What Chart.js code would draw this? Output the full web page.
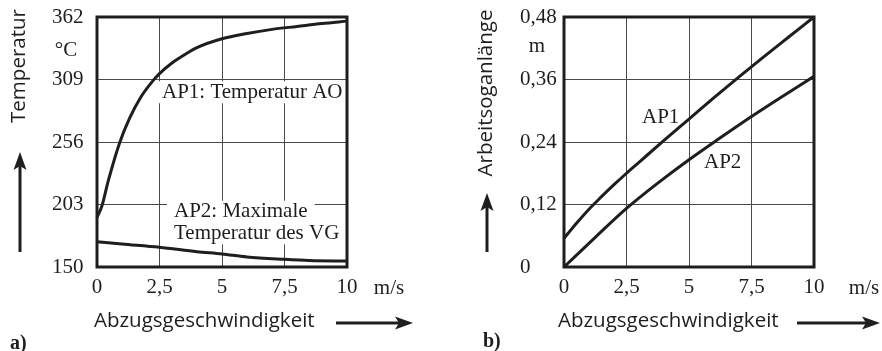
<!DOCTYPE html>
<html lang="de">
<head>
<meta charset="utf-8">
<title>Abzugsgeschwindigkeit</title>
<script src="https://cdn.jsdelivr.net/npm/chart.js"></script>
<style>
  body { margin: 0; background: #fff; }
  #wrap { position: relative; width: 882px; height: 351px; }
  canvas { position: absolute; top: 0; }
  #chartA { left: 0; }
  #chartB { left: 441px; }
</style>
</head>
<body>
<div id="wrap">
  <canvas id="chartA" width="441" height="351"></canvas>
  <canvas id="chartB" width="441" height="351"></canvas>
</div>
<script>
// Abzugsgeschwindigkeit in m/s (beide Diagramme)
const speedTicks = [0, 2.5, 5, 7.5, 10];
const speedLabels = ['0', '2,5', '5', '7,5', '10'];

// a) Temperatur in °C
const tempTicks = [150, 203, 256, 309, 362];
const tempLabels = ['150', '203', '256', '309', '362'];
const ap1TempX = [0, 0.2, 0.45, 0.9, 1.3, 1.75, 2.2, 2.5, 3, 3.5, 4, 5, 6, 7, 8, 9, 10];
const ap1TempY = [192, 202, 223, 255, 276, 294, 307, 314, 323, 330, 336, 343.5, 348, 351.5, 354, 356.5, 358.5];
const ap2TempX = [0, 1, 2.5, 4, 5, 6, 7.5, 8.5, 10];
const ap2TempY = [171.5, 169.5, 166.7, 163, 161, 158.5, 156.5, 155.5, 155];

// b) Arbeitsoganlänge in m
const lengthTicks = [0, 0.12, 0.24, 0.36, 0.48];
const lengthLabels = ['0', '0,12', '0,24', '0,36', '0,48'];
const ap1LenX = [0, 0.5, 1, 1.5, 2, 2.5, 3, 4, 5, 6, 7, 8, 9, 10];
const ap1LenY = [0.055, 0.084, 0.111, 0.135, 0.158, 0.18, 0.201, 0.243, 0.284, 0.325, 0.365, 0.404, 0.442, 0.48];
const ap2LenX = [0, 1.25, 2.5, 3.75, 5, 6.25, 7.5, 8.75, 10];
const ap2LenY = [0, 0.057, 0.1125, 0.161, 0.206, 0.248, 0.289, 0.328, 0.366];

const INK = '#1e1e1e';
const GRID = '#4a4a4a';
const SERIF = '21px "Liberation Serif"';
const SERIF_BOLD = 'bold 20px "Liberation Serif"';
const SANS = '20.5px "Open Sans"';
const LINE = 21.6;

function pts(xs, ys) {
  return xs.map((x, i) => ({ x, y: ys[i] }));
}

function arrow(ctx, x1, y1, x2, y2) {
  const ang = Math.atan2(y2 - y1, x2 - x1);
  const len = 18, half = 6.5;
  const bx = x2 - Math.cos(ang) * len, by = y2 - Math.sin(ang) * len;
  ctx.beginPath();
  ctx.moveTo(x1, y1);
  ctx.lineTo(bx + Math.cos(ang) * 4, by + Math.sin(ang) * 4);
  ctx.stroke();
  ctx.beginPath();
  ctx.moveTo(x2, y2);
  ctx.lineTo(bx - Math.sin(ang) * half, by + Math.cos(ang) * half);
  ctx.lineTo(bx + Math.cos(ang) * 4, by + Math.sin(ang) * 4);
  ctx.lineTo(bx + Math.sin(ang) * half, by - Math.cos(ang) * half);
  ctx.closePath();
  ctx.fill();
}

// Beschriftungen im Diagramm, Rahmen, Achsentitel und Pfeile
function makeDeco(cfg) {
  return {
    id: 'deco',
    beforeDatasetsDraw(chart) {
      const { ctx, chartArea: a, scales: { x, y } } = chart;
      ctx.save();
      ctx.font = SERIF;
      ctx.textBaseline = 'middle';
      ctx.textAlign = 'left';
      for (const n of cfg.notes) {
        const px = x.getPixelForValue(n.x);
        const top = y.getPixelForValue(n.y) - n.lines.length * LINE / 2;
        n.lines.forEach((t, i) => {
          const cy = top + LINE * (i + 0.5);
          if (n.box) {
            ctx.fillStyle = '#fff';
            ctx.fillRect(px - 7, cy - 11, ctx.measureText(t).width + 14, 22);
          }
          ctx.fillStyle = INK;
          ctx.fillText(t, px, cy);
        });
      }
      ctx.lineWidth = 3;
      ctx.strokeStyle = INK;
      ctx.strokeRect(a.left, a.top, a.right - a.left, a.bottom - a.top);
      ctx.restore();
    },
    afterDraw(chart) {
      const ctx = chart.ctx;
      ctx.save();
      ctx.fillStyle = INK;
      ctx.strokeStyle = INK;
      ctx.textBaseline = 'middle';
      for (const t of cfg.texts) {
        ctx.font = t.font;
        ctx.textAlign = t.align || 'center';
        if (t.rot) {
          ctx.save();
          ctx.translate(t.x, t.y);
          ctx.rotate(-Math.PI / 2);
          ctx.fillText(t.t, 0, 0);
          ctx.restore();
        } else {
          ctx.fillText(t.t, t.x, t.y);
        }
      }
      ctx.lineWidth = 3;
      for (const a of cfg.arrows) arrow(ctx, a[0], a[1], a[2], a[3]);
      ctx.restore();
    }
  };
}

function makeChart(id, cfg) {
  return new Chart(document.getElementById(id), {
    type: 'line',
    data: {
      datasets: cfg.series.map((s) => ({
        label: s.label,
        data: pts(s.x, s.y),
        borderColor: INK,
        borderWidth: 3,
        pointRadius: 0,
        cubicInterpolationMode: 'monotone',
        fill: false,
        clip: false,
      })),
    },
    options: {
      responsive: false,
      animation: false,
      devicePixelRatio: 1,
      layout: { padding: cfg.padding },
      plugins: { legend: { display: false }, tooltip: { enabled: false } },
      scales: {
        x: {
          type: 'linear',
          min: 0,
          max: 10,
          afterBuildTicks: (s) => { s.ticks = speedTicks.map((v) => ({ value: v })); },
          afterFit: (s) => { s.height = 84; },
          ticks: {
            callback: (v, i) => speedLabels[i],
            font: { family: 'Liberation Serif', size: 21 },
            color: INK,
            padding: 8,
            maxRotation: 0,
            autoSkip: false,
          },
          grid: { color: GRID, lineWidth: 1, drawTicks: false },
          border: { display: false },
        },
        y: {
          type: 'linear',
          min: cfg.yTicks[0],
          max: cfg.yTicks[cfg.yTicks.length - 1],
          afterBuildTicks: (s) => { s.ticks = cfg.yTicks.map((v) => ({ value: v })); },
          afterFit: (s) => { s.width = cfg.yWidth; },
          ticks: {
            callback: (v, i) => cfg.yLabels[i],
            font: { family: 'Liberation Serif', size: 21 },
            color: INK,
            crossAlign: 'far',
            padding: 0,
            autoSkip: false,
          },
          grid: { color: GRID, lineWidth: 1, drawTicks: false },
          border: { display: false },
        },
      },
    },
    plugins: [makeDeco(cfg)],
  });
}

makeChart('chartA', {
  padding: { left: 52, right: 94, top: 17, bottom: 0 },
  yWidth: 45,
  yTicks: tempTicks,
  yLabels: tempLabels,
  series: [
    { label: 'AP1', x: ap1TempX, y: ap1TempY },
    { label: 'AP2', x: ap2TempX, y: ap2TempY },
  ],
  notes: [
    { x: 2.6, y: 298.2, lines: ['AP1: Temperatur AO'], box: true },
    { x: 3.08, y: 187.7, lines: ['AP2: Maximale', 'Temperatur des VG'], box: true },
  ],
  texts: [
    { t: 'Temperatur', x: 19, y: 66, font: SANS, rot: true },
    { t: '°C', x: 66, y: 50, font: SERIF },
    { t: 'm/s', x: 389, y: 288, font: SERIF },
    { t: 'Abzugsgeschwindigkeit', x: 94, y: 321, font: SANS, align: 'left' },
    { t: 'a)', x: 10, y: 344, font: SERIF_BOLD, align: 'left' },
  ],
  arrows: [[20, 252, 20, 152], [336, 323, 413, 323]],
});

makeChart('chartB', {
  padding: { left: 79, right: 68, top: 17, bottom: 0 },
  yWidth: 44,
  yTicks: lengthTicks,
  yLabels: lengthLabels,
  series: [
    { label: 'AP1', x: ap1LenX, y: ap1LenY },
    { label: 'AP2', x: ap2LenX, y: ap2LenY },
  ],
  notes: [
    { x: 3.12, y: 0.288, lines: ['AP1'], box: false },
    { x: 5.6, y: 0.2, lines: ['AP2'], box: false },
  ],
  texts: [
    { t: 'Arbeitsoganlänge', x: 45, y: 93, font: SANS, rot: true },
    { t: 'm', x: 96, y: 46, font: SERIF },
    { t: 'm/s', x: 423, y: 288, font: SERIF },
    { t: 'Abzugsgeschwindigkeit', x: 117, y: 321, font: SANS, align: 'left' },
    { t: 'b)', x: 42, y: 342, font: SERIF_BOLD, align: 'left' },
  ],
  arrows: [[46, 252, 46, 193], [356, 323, 439, 323]],
});
</script>
</body>
</html>
